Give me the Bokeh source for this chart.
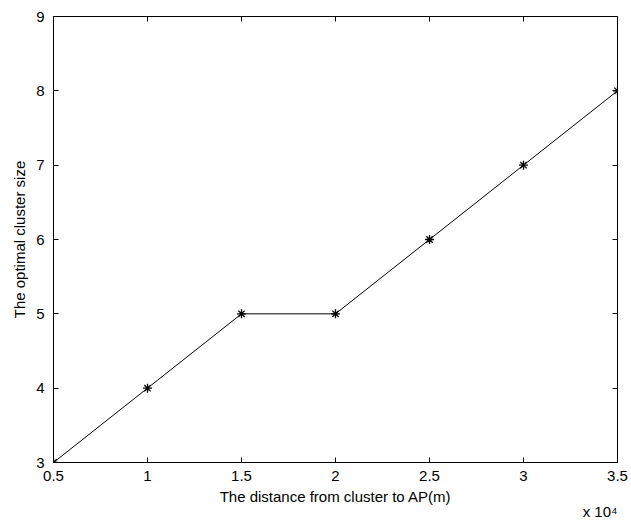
from bokeh.plotting import figure
from bokeh.models import FixedTicker, LinearAxis, Range1d, CustomJSTickFormatter, Title
from bokeh.embed import file_html
from bokeh.resources import INLINE

distance_m = [5000, 10000, 15000, 20000, 25000, 30000, 35000]
cluster_size = [3, 4, 5, 5, 6, 7, 8]
x_ticks = [5000, 10000, 15000, 20000, 25000, 30000, 35000]
x_tick_labels = ["0.5", "1", "1.5", "2", "2.5", "3", "3.5"]
y_ticks = [3, 4, 5, 6, 7, 8, 9]
x_scale_note = "x 10\u2074"

FONT = "Liberation Sans"
FS = "15px"

p = figure(width=631, height=522, output_backend="svg", toolbar_location=None,
           x_range=Range1d(5000, 35000), y_range=Range1d(3, 9),
           min_border_left=53, min_border_right=14, min_border_top=16, min_border_bottom=60,
           x_axis_label="The distance from cluster to AP(m)",
           y_axis_label="The optimal cluster size")
p.xgrid.visible = False
p.ygrid.visible = False
p.outline_line_color = "black"
p.outline_line_alpha = 1
p.outline_line_width = 1
p.background_fill_color = "white"
p.border_fill_color = "white"

xa = p.xaxis[0]
xa.ticker = FixedTicker(ticks=x_ticks)
xa.major_label_overrides = {t: l for t, l in zip(x_ticks, x_tick_labels)}
ya = p.yaxis[0]
ya.ticker = FixedTicker(ticks=y_ticks)

for ax in (xa, ya):
    ax.major_tick_in = 5
    ax.major_tick_out = 0
    ax.minor_tick_line_color = None
    ax.axis_line_color = "black"
    ax.major_tick_line_color = "black"
    ax.major_label_text_font = FONT
    ax.major_label_text_font_size = FS
    ax.major_label_text_color = "black"
    ax.axis_label_text_font = FONT
    ax.axis_label_text_font_size = FS
    ax.axis_label_text_font_style = "normal"
    ax.axis_label_text_color = "black"
xa.major_label_standoff = 8
xa.axis_label_standoff = 4
ya.major_label_standoff = 9
ya.axis_label_standoff = 5

# mirrored ticks on top and right (box style)
blank = CustomJSTickFormatter(code="return '';")
top = LinearAxis(ticker=FixedTicker(ticks=x_ticks), formatter=blank)
right = LinearAxis(ticker=FixedTicker(ticks=y_ticks), formatter=blank)
for ax in (top, right):
    ax.major_tick_in = 5
    ax.major_tick_out = 0
    ax.minor_tick_line_color = None
    ax.major_label_standoff = 0
    ax.axis_line_color = "black"
    ax.major_tick_line_color = "black"
p.add_layout(top, "above")
p.add_layout(right, "right")

p.line(distance_m, cluster_size, line_color="black", line_width=1)
p.scatter(distance_m, cluster_size, marker="asterisk", size=9, line_color="black", line_width=1.3)

note = Title(text=x_scale_note, align="right", text_font=FONT, text_font_size=FS,
             text_font_style="normal", text_color="black", standoff=-14, offset=0)
p.add_layout(note, "below")

open("out.html", "w").write(file_html(p, INLINE))
